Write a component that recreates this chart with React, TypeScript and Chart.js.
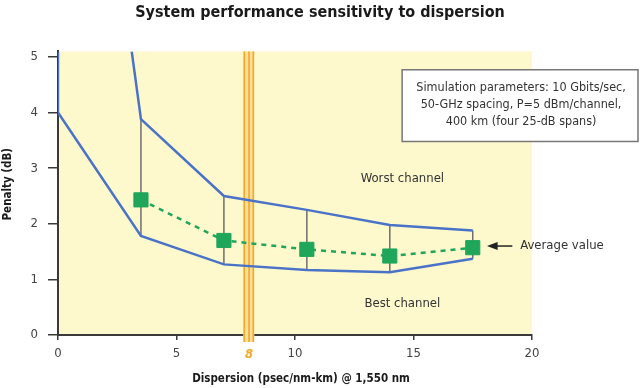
import React, { useEffect, useRef } from "react";
import { Chart, registerables } from "chart.js";

Chart.register(...registerables);

// ---------- data ----------
const chartTitle = "System performance sensitivity to dispersion";
const xTitle = "Dispersion (psec/nm-km) @ 1,550 nm";
const yTitle = "Penalty (dB)";

const dispersion = [3.5, 7, 10.5, 14, 17.5];
const worstChannel = [3.88, 2.5, 2.25, 1.98, 1.88];
const bestChannel = [1.78, 1.27, 1.17, 1.13, 1.37];
const averageValue = [2.43, 1.7, 1.54, 1.42, 1.57];

// curves entering the plot from above
const worstLeadX = [3.11];
const worstLeadY = [5.1];
const bestLeadX = [0, 0];
const bestLeadY = [5.1, 4.0];

const xTicks = [0, 5, 10, 15, 20];
const yTicks = [0, 1, 2, 3, 4, 5];

const markerLines = [7.86, 8.06, 8.24];
const markerLabel = "8";

const worstLabel = "Worst channel";
const bestLabel = "Best channel";
const averageLabel = "Average value";
const boxLines = [
  "Simulation parameters: 10 Gbits/sec,",
  "50-GHz spacing, P=5 dBm/channel,",
  "400 km (four 25-dB spans)",
];

// ---------- styles ----------
const FONT = "'Liberation Sans Narrow', 'DejaVu Sans Condensed', 'Liberation Sans', sans-serif";
const BLUE = "#4a73c8";
const GREEN = "#1fa65a";
const BAR = "#6e6e6e";
const AXIS = "#3a3a3a";
const YELLOW = "#fdf9cd";
const ORANGE = "#f3a828";
const ORANGE_PALE = "#fcdf9c";

const pts = (xs: number[], ys: number[]) => xs.map((x, i) => ({ x, y: ys[i] }));

const backgroundPlugin = {
  id: "bg",
  beforeDraw(chart: any) {
    const { ctx, chartArea } = chart;
    ctx.save();
    ctx.fillStyle = YELLOW;
    ctx.fillRect(chartArea.left, chartArea.top, chartArea.right - chartArea.left, chartArea.bottom - chartArea.top);
    ctx.restore();
  },
};

const titlesPlugin = {
  id: "titles",
  afterDraw(chart: any) {
    const { ctx, chartArea } = chart;
    ctx.save();
    ctx.fillStyle = "#1a1a1a";
    ctx.textAlign = "center";
    ctx.textBaseline = "middle";
    ctx.font = `bold 16px ${FONT}`;
    ctx.fillText(chartTitle, chart.width / 2, 13);
    ctx.font = `bold 11.5px ${FONT}`;
    ctx.fillText(xTitle, (chartArea.left + chartArea.right) / 2 + 6, chart.height - 9);
    ctx.translate(8, (chartArea.top + chartArea.bottom) / 2 - 9);
    ctx.rotate(-Math.PI / 2);
    ctx.fillText(yTitle, 0, 0);
    ctx.restore();
  },
};

const markerPlugin = {
  id: "marker",
  beforeDatasetsDraw(chart: any) {
    const { ctx, chartArea, scales } = chart;
    const xs = scales.x;
    const x0 = xs.getPixelForValue(markerLines[0]);
    const x1 = xs.getPixelForValue(markerLines[markerLines.length - 1]);
    const top = chartArea.top;
    const bottom = chartArea.bottom + 7;
    ctx.save();
    ctx.fillStyle = ORANGE_PALE;
    ctx.fillRect(x0 - 1, top, x1 - x0 + 2, bottom - top);
    ctx.strokeStyle = ORANGE;
    ctx.lineWidth = 1.6;
    markerLines.forEach((v) => {
      const px = xs.getPixelForValue(v);
      ctx.beginPath();
      ctx.moveTo(px, top);
      ctx.lineTo(px, bottom);
      ctx.stroke();
    });
    ctx.fillStyle = ORANGE;
    ctx.font = `italic bold 13px ${FONT}`;
    ctx.textAlign = "center";
    ctx.textBaseline = "middle";
    ctx.fillText(markerLabel, xs.getPixelForValue(markerLines[1]), chartArea.bottom + 20);
    ctx.restore();
  },
};

const annotationPlugin = {
  id: "annot",
  afterDatasetsDraw(chart: any) {
    const { ctx, scales } = chart;
    const X = (v: number) => scales.x.getPixelForValue(v);
    const Y = (v: number) => scales.y.getPixelForValue(v);
    ctx.save();
    ctx.fillStyle = "#333";
    ctx.font = `13px ${FONT}`;
    ctx.textAlign = "center";
    ctx.textBaseline = "middle";
    ctx.fillText(worstLabel, X(14.53), Y(2.82));
    ctx.fillText(bestLabel, X(14.53), Y(0.56));
    ctx.textAlign = "left";
    ctx.fillText(averageLabel, X(19.5), Y(1.6));
    // arrow
    const ay = Y(1.6);
    ctx.strokeStyle = "#222";
    ctx.lineWidth = 1.5;
    ctx.beginPath();
    ctx.moveTo(X(19.17), ay);
    ctx.lineTo(X(18.4), ay);
    ctx.stroke();
    ctx.beginPath();
    ctx.moveTo(X(18.1), ay);
    ctx.lineTo(X(18.55), ay - 4);
    ctx.lineTo(X(18.55), ay + 4);
    ctx.closePath();
    ctx.fillStyle = "#222";
    ctx.fill();
    // parameter box
    const bl = X(14.52);
    const bt = Y(4.77);
    const br = chart.width - 2;
    const bb = Y(3.48);
    ctx.fillStyle = "#ffffff";
    ctx.fillRect(bl, bt, br - bl, bb - bt);
    ctx.strokeStyle = "#777";
    ctx.lineWidth = 1.5;
    ctx.strokeRect(bl, bt, br - bl, bb - bt);
    ctx.fillStyle = "#333";
    ctx.font = `12.5px ${FONT}`;
    ctx.textAlign = "center";
    const cx = (bl + br) / 2 + 1;
    const lineYs = [4.44, 4.14, 3.84];
    boxLines.forEach((t, i) => ctx.fillText(t, cx, Y(lineYs[i])));
    ctx.restore();
  },
};

export default function App() {
  const ref = useRef<HTMLCanvasElement>(null);
  useEffect(() => {
    if (!ref.current) return;
    const chart = new Chart(ref.current, {
      type: "line",
      data: {
        datasets: [
          {
            label: "Average value",
            data: pts(dispersion, averageValue),
            borderColor: GREEN,
            backgroundColor: GREEN,
            borderWidth: 2.5,
            borderDash: [5, 5],
            pointStyle: "rect",
            pointRadius: 10,
            pointBorderWidth: 1,
            pointBorderColor: GREEN,
            pointBackgroundColor: GREEN,
            order: 0,
          },
          {
            label: "Worst channel",
            data: [...pts(worstLeadX, worstLeadY), ...pts(dispersion, worstChannel)],
            borderColor: BLUE,
            borderWidth: 2.5,
            pointRadius: 0,
            order: 1,
          },
          {
            label: "Best channel",
            data: [...pts(bestLeadX, bestLeadY), ...pts(dispersion, bestChannel)],
            borderColor: BLUE,
            borderWidth: 2.5,
            pointRadius: 0,
            order: 1,
          },
          {
            label: "Range",
            data: dispersion.flatMap((x, i) => [
              { x, y: bestChannel[i] },
              { x, y: worstChannel[i] },
              { x, y: null as any },
            ]),
            borderColor: BAR,
            borderWidth: 1.5,
            pointRadius: 0,
            spanGaps: false,
            order: 2,
          },
        ],
      } as any,
      options: {
        animation: false,
        responsive: false,
        maintainAspectRatio: false,
        layout: { padding: { left: 0, right: 108, top: 51.4, bottom: 0 } },
        plugins: {
          legend: { display: false },
          tooltip: { enabled: false },
          title: { display: false },
        },
        scales: {
          x: {
            type: "linear",
            min: 0,
            max: 20,
            afterBuildTicks: (s: any) => {
              s.ticks = xTicks.map((v) => ({ value: v }));
            },
            afterFit: (s: any) => {
              s.height = 53;
            },
            grid: { drawOnChartArea: false, tickLength: 5, color: AXIS, lineWidth: 1.5 },
            border: { color: AXIS, width: 2 },
            ticks: { padding: 6, color: "#444", font: { family: FONT, size: 13 } },
          },
          y: {
            type: "linear",
            min: 0,
            max: 5.1,
            afterBuildTicks: (s: any) => {
              s.ticks = yTicks.map((v) => ({ value: v }));
            },
            afterFit: (s: any) => {
              s.width = 58;
            },
            grid: { drawOnChartArea: false, tickLength: 10, color: AXIS, lineWidth: 1.5 },
            border: { color: AXIS, width: 2 },
            ticks: { padding: 10, color: "#444", font: { family: FONT, size: 13 } },
          },
        },
      } as any,
      plugins: [backgroundPlugin, markerPlugin, annotationPlugin, titlesPlugin],
    });
    return () => chart.destroy();
  }, []);
  return (
    <div style={{ position: "fixed", left: 0, top: 0, width: 640, height: 388, background: "#fff" }}>
      <canvas ref={ref} width={640} height={388} style={{ display: "block" }} />
    </div>
  );
}
